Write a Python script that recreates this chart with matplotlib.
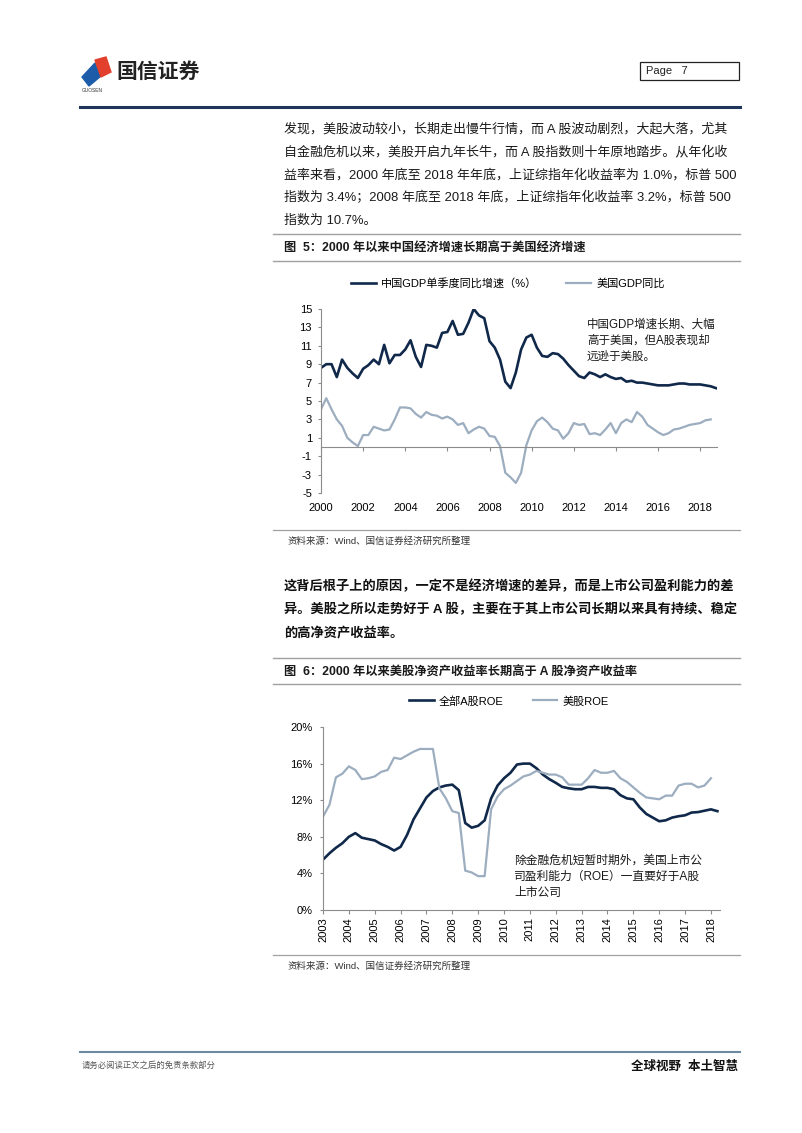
import numpy as np
import matplotlib
matplotlib.use("Agg")
import matplotlib.pyplot as plt
from matplotlib.lines import Line2D
from matplotlib.patches import Polygon, Rectangle

plt.rcParams['font.family'] = ['Liberation Sans', 'Noto Sans CJK SC']
plt.rcParams['axes.unicode_minus'] = False

# ---- data ----
# chart 1: quarterly GDP yoy, from 2000Q1
cn_gdp = [8.6, 9.0, 9.0, 7.6, 9.5, 8.6, 8.0, 7.5, 8.5, 8.9, 9.5, 9.0,
          11.1, 9.1, 10.0, 10.0, 10.6, 11.6, 9.8, 8.7, 11.1, 11.0, 10.8, 12.4,
          12.5, 13.7, 12.2, 12.3, 13.5, 15.0, 14.3, 14.0, 11.5, 10.8, 9.5, 7.1,
          6.4, 8.1, 10.6, 11.9, 12.2, 10.8, 9.9, 9.8, 10.2, 10.1, 9.6, 8.9,
          8.3, 7.7, 7.5, 8.1, 7.9, 7.6, 7.9, 7.6, 7.4, 7.5, 7.1, 7.2,
          7.0, 7.0, 6.9, 6.8, 6.7, 6.7, 6.7, 6.8, 6.9, 6.9, 6.8, 6.8,
          6.8, 6.7, 6.6, 6.4]
us_gdp = [4.1, 5.3, 4.1, 3.0, 2.3, 1.0, 0.5, 0.1, 1.3, 1.3, 2.2, 2.0,
          1.8, 1.9, 3.0, 4.3, 4.3, 4.2, 3.6, 3.2, 3.8, 3.5, 3.4, 3.1,
          3.3, 3.0, 2.4, 2.6, 1.5, 1.9, 2.2, 2.0, 1.2, 1.1, 0.1, -2.8,
          -3.3, -3.9, -2.8, 0.2, 1.8, 2.8, 3.2, 2.7, 2.0, 1.8, 0.9, 1.5,
          2.6, 2.4, 2.5, 1.4, 1.5, 1.3, 1.9, 2.6, 1.5, 2.6, 3.0, 2.7,
          3.8, 3.3, 2.4, 2.0, 1.6, 1.3, 1.5, 1.9, 2.0, 2.2, 2.4, 2.5,
          2.6, 2.9, 3.0]
gdp_years = [2000, 2002, 2004, 2006, 2008, 2010, 2012, 2014, 2016, 2018]
gdp_yticks = [-5, -3, -1, 1, 3, 5, 7, 9, 11, 13, 15]

# chart 2: quarterly ROE (%), from 2003Q1
a_roe = [5.5, 6.2, 6.8, 7.3, 8.0, 8.4, 7.9, 7.75, 7.6, 7.2, 6.9, 6.5,
         6.9, 8.2, 9.9, 11.1, 12.3, 13.0, 13.4, 13.6, 13.7, 13.1, 9.5, 9.0,
         9.2, 9.8, 12.2, 13.6, 14.4, 15.0, 15.9, 16.0, 16.0, 15.5, 14.8, 14.3,
         13.9, 13.45, 13.3, 13.2, 13.2, 13.45, 13.45, 13.35, 13.35, 13.2, 12.55, 12.2,
         12.1, 11.2, 10.5, 10.1, 9.7, 9.8, 10.1, 10.25, 10.35, 10.65, 10.7, 10.85,
         11.0, 10.8]
us_roe = [10.2, 11.5, 14.5, 14.9, 15.7, 15.3, 14.3, 14.4, 14.6, 15.1, 15.3, 16.65,
          16.5, 16.9, 17.3, 17.6, 17.6, 17.6, 13.3, 12.2, 10.8, 10.6, 4.3, 4.1,
          3.7, 3.7, 11.0, 12.4, 13.2, 13.6, 14.1, 14.6, 14.8, 15.2, 15.0, 14.8,
          14.8, 14.5, 13.7, 13.7, 13.7, 14.4, 15.3, 15.0, 15.0, 15.2, 14.4, 14.0,
          13.4, 12.8, 12.3, 12.2, 12.1, 12.5, 12.5, 13.6, 13.8, 13.8, 13.4, 13.6,
          14.4]
roe_years = list(range(2003, 2019))
roe_yticks = [0, 4, 8, 12, 16, 20]

para1 = ["发现，美股波动较小，长期走出慢牛行情，而 A 股波动剧烈，大起大落，尤其",
         "自金融危机以来，美股开启九年长牛，而 A 股指数则十年原地踏步。从年化收",
         "益率来看，2000 年底至 2018 年年底，上证综指年化收益率为 1.0%，标普 500",
         "指数为 3.4%；2008 年底至 2018 年底，上证综指年化收益率 3.2%，标普 500",
         "指数为 10.7%。"]
para2 = ["这背后根子上的原因，一定不是经济增速的差异，而是上市公司盈利能力的差",
         "异。美股之所以走势好于 A 股，主要在于其上市公司长期以来具有持续、稳定",
         "的高净资产收益率。"]

DARK = '#10284a'
GRAY = '#9cadbf'
W, H = 802, 1133


def fx(x):
    return x / W


def fy(y):
    return 1 - y / H


fig = plt.figure(figsize=(8.02, 11.33), dpi=100)


def hline(y, x0, x1, color, lw):
    fig.add_artist(Line2D([fx(x0), fx(x1)], [fy(y), fy(y)], color=color, lw=lw,
                          transform=fig.transFigure))


def txt(x, y, s, size, **kw):
    kw.setdefault('ha', 'left')
    kw.setdefault('va', 'center')
    fig.text(fx(x), fy(y), s, fontsize=size, **kw)


# ---- header ----
fig.add_artist(Polygon([(fx(82), fy(77)), (fx(95), fy(63)), (fx(101), fy(76)), (fx(89), fy(86))],
                       closed=True, color='#1d5ca8', transform=fig.transFigure))
fig.add_artist(Polygon([(fx(95), fy(60)), (fx(106), fy(57)), (fx(111), fy(72)), (fx(101), fy(77))],
                       closed=True, color='#e2402c', transform=fig.transFigure))
txt(116, 72, "国信证券", 15, weight='bold', color='#222222')
txt(82, 90, "GUOSEN", 3.5, color='#333333')
fig.add_artist(Rectangle((fx(640), fy(80)), fx(739) - fx(640), fy(62) - fy(80), fill=False,
                         ec='#222222', lw=0.9, transform=fig.transFigure))
txt(646, 71, "Page   7", 8, color='#222222')
hline(107, 80, 740, '#1f3559', 2.2)

# ---- paragraph 1 ----
for i, line in enumerate(para1):
    txt(284, 129 + 23 * i, line, 9.35, color='#1a1a1a')

# ---- figure 5 ----
hline(234, 273, 740, '#a0a0a0', 1.0)
txt(284, 249, "图  5：2000 年以来中国经济增速长期高于美国经济增速", 8.8, weight='bold', color='#1a1a1a')
hline(261, 273, 740, '#a0a0a0', 1.0)

ax1 = fig.add_axes([fx(321), fy(493), (717 - 321) / W, (493 - 309) / H])
t1 = 2000 + 0.25 * np.arange(len(cn_gdp))
t2 = 2000 + 0.25 * np.arange(len(us_gdp))
l1, = ax1.plot(t1, cn_gdp, color=DARK, lw=1.9, solid_joinstyle='round')
l2, = ax1.plot(t2, us_gdp, color=GRAY, lw=1.6, solid_joinstyle='round')
ax1.set_xlim(2000, 2018.8)
ax1.set_ylim(-5, 15)
ax1.set_yticks(gdp_yticks)
ax1.set_xticks(gdp_years)
ax1.spines['top'].set_visible(False)
ax1.spines['right'].set_visible(False)
ax1.spines['bottom'].set_position(('data', 0))
ax1.spines['bottom'].set_color('#8c8c8c')
ax1.spines['left'].set_color('#8c8c8c')
ax1.tick_params(axis='y', length=2.5, width=0.8, color='#8c8c8c', pad=4, labelsize=8)
ax1.tick_params(axis='x', length=3, width=0.8, color='#8c8c8c', pad=37, labelsize=8)
ax1.patch.set_alpha(0)
fig.legend([l1, l2], ["中国GDP单季度同比增速（%）", "美国GDP同比"], loc='center',
           bbox_to_anchor=(fx(508), fy(283)), ncol=2, frameon=False, fontsize=8,
           handlelength=2.2, handletextpad=0.5, columnspacing=2.6)
txt(587, 325, "中国GDP增速长期、大幅", 8.3, color='#1a1a1a')
txt(587, 341, "高于美国，但A股表现却", 8.3, color='#1a1a1a')
txt(587, 357, "远逊于美股。", 8.3, color='#1a1a1a')

hline(530, 273, 740, '#a0a0a0', 0.9)
txt(288, 541, "资料来源：Wind、国信证券经济研究所整理", 6.8, color='#333333')

# ---- paragraph 2 ----
for i, line in enumerate(para2):
    txt(284, 586 + 24 * i, line, 9.5, weight='bold', color='#111111')

# ---- figure 6 ----
hline(658, 273, 740, '#a0a0a0', 1.0)
txt(284, 672, "图  6：2000 年以来美股净资产收益率长期高于 A 股净资产收益率", 8.8, weight='bold', color='#1a1a1a')
hline(684, 273, 740, '#a0a0a0', 1.0)

ax2 = fig.add_axes([fx(323), fy(910), (720 - 323) / W, (910 - 727) / H])
r1 = 2003 + 0.25 * np.arange(len(a_roe))
r2 = 2003 + 0.25 * np.arange(len(us_roe))
m1, = ax2.plot(r1, a_roe, color=DARK, lw=1.9, solid_joinstyle='round')
m2, = ax2.plot(r2, us_roe, color=GRAY, lw=1.6, solid_joinstyle='round')
ax2.set_xlim(2003, 2018.35)
ax2.set_ylim(0, 20)
ax2.set_yticks(roe_yticks)
ax2.set_yticklabels([f"{v}%" for v in roe_yticks])
ax2.set_xticks(roe_years)
ax2.set_xticklabels([str(y) for y in roe_years], rotation=90)
ax2.spines['top'].set_visible(False)
ax2.spines['right'].set_visible(False)
ax2.spines['bottom'].set_color('#8c8c8c')
ax2.spines['left'].set_color('#8c8c8c')
ax2.tick_params(axis='y', length=2.5, width=0.8, color='#8c8c8c', pad=5, labelsize=8)
ax2.tick_params(axis='x', length=3, width=0.8, color='#8c8c8c', pad=2, labelsize=8)
ax2.patch.set_alpha(0)
fig.legend([m1, m2], ["全部A股ROE", "美股ROE"], loc='center',
           bbox_to_anchor=(fx(509), fy(701)), ncol=2, frameon=False, fontsize=8,
           handlelength=2.2, handletextpad=0.5, columnspacing=2.6)
txt(514, 861, "除金融危机短暂时期外，美国上市公", 8.5, color='#1a1a1a')
txt(514, 877, "司盈利能力（ROE）一直要好于A股", 8.5, color='#1a1a1a')
txt(514, 893, "上市公司", 8.5, color='#1a1a1a')

hline(955, 273, 740, '#a0a0a0', 0.9)
txt(288, 966, "资料来源：Wind、国信证券经济研究所整理", 6.8, color='#333333')

# ---- footer ----
hline(1052, 80, 740, '#6d8aa3', 1.5)
txt(82, 1066, "请务必阅读正文之后的免责条款部分", 6, color='#555555')
txt(738, 1067, "全球视野  本土智慧", 9, ha='right', weight='bold', style='italic', color='#111111')

fig.savefig("out.png", dpi=100)
